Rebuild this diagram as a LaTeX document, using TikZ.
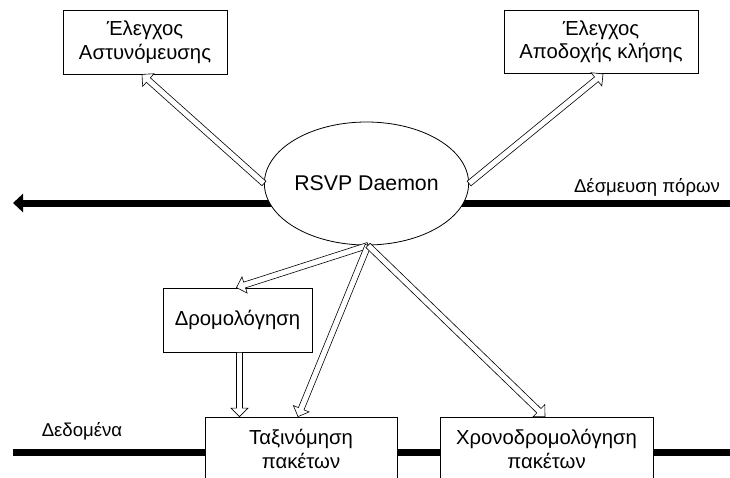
\documentclass[tikz,border=0pt]{standalone}
\usepackage{fontspec}
\setmainfont{Liberation Sans}
\usetikzlibrary{calc,shapes.geometric,arrows.meta}

\tikzset{
  box/.style={draw=black, line width=0.8pt, fill=white, align=center,
    inner sep=0pt, font=\fontsize{20.3}{23.5}\selectfont},
  daemon/.style={ellipse, draw=black, line width=0.8pt, fill=white,
    inner sep=0pt, minimum width=197pt, minimum height=123pt,
    font=\fontsize{21.3}{24}\selectfont},
  lbl/.style={inner sep=0pt, font=\fontsize{18.6}{22}\selectfont},
  flow/.style={line width=7pt, draw=black},
  barrow/.style={draw=black, line width=0.6pt, fill=white, line join=miter},
}

% hollow block arrow from #1 to the tip #2
\newcommand\blockarrow[2]{%
  \coordinate (ba-base) at ($(#2)!8.5pt!(#1)$);
  \path[barrow]
    ($(#1)!3pt!90:(#2)$) -- ($(ba-base)!3pt!90:(#2)$)
    -- ($(ba-base)!8.5pt!90:(#2)$) -- (#2)
    -- ($(ba-base)!8.5pt!-90:(#2)$) -- ($(ba-base)!3pt!-90:(#2)$)
    -- ($(#1)!3pt!-90:(#2)$) -- cycle;
}

\begin{document}
\begin{tikzpicture}[x=1pt, y=-1pt]
  \useasboundingbox (0,0) rectangle (730,477);
  \clip (0,0) rectangle (730,477);

  % resource reservation flow and data flow
  \coordinate (rin) at (730,203);
  \coordinate (rout) at (13,203);
  \coordinate (din) at (13,452);
  \coordinate (dout) at (730,452);
  \draw[flow, -{Triangle[length=10pt, width=18pt]}] (rin) -- (rout);
  \draw[flow] (din) -- (dout);

  % components
  \node[daemon] (ell) at (366.5,183.5) {RSVP Daemon};
  \node[box, minimum width=164pt, minimum height=64pt] (pol) at (145,42)
    {Έλεγχος\\Αστυνόμευσης};
  \node[box, minimum width=194pt, minimum height=63pt] (adm) at (601,41.5)
    {Έλεγχος\\Αποδοχής κλήσης};
  \node[box, minimum width=149pt, minimum height=64pt] (rt) at (237.5,320)
    {Δρομολόγηση};
  \node[box, minimum width=192pt, minimum height=64pt] (cls) at (301,449)
    {Ταξινόμηση\\πακέτων};
  \node[box, minimum width=213pt, minimum height=64pt] (sch) at (546.5,449)
    {Χρονοδρομολόγηση\\πακέτων};

  % labels of the two flows
  \node[lbl] (resv) at (647,187) {Δέσμευση πόρων};
  \node[lbl] (data) at (82,431) {Δεδομένα};

  % control arrows
  \coordinate (src) at ($(ell.south)+(1.5,0)$);
  \coordinate (tpol) at ($(pol.south)+(-3,0)$);
  \coordinate (tadm) at ($(adm.south)+(2,0.5)$);
  \coordinate (trt) at ($(rt.north)+(-1,0)$);
  \coordinate (tcls) at ($(cls.north)+(-3,0)$);
  \coordinate (tsch) at ($(sch.north)+(-1.5,0)$);
  \coordinate (rtout) at ($(rt.south)+(2,0)$);
  \coordinate (trc) at (rtout |- cls.north);

  \blockarrow{ell.west}{tpol}
  \blockarrow{ell.east}{tadm}
  \blockarrow{src}{trt}
  \blockarrow{src}{tcls}
  \blockarrow{src}{tsch}
  \blockarrow{rtout}{trc}
\end{tikzpicture}
\end{document}
